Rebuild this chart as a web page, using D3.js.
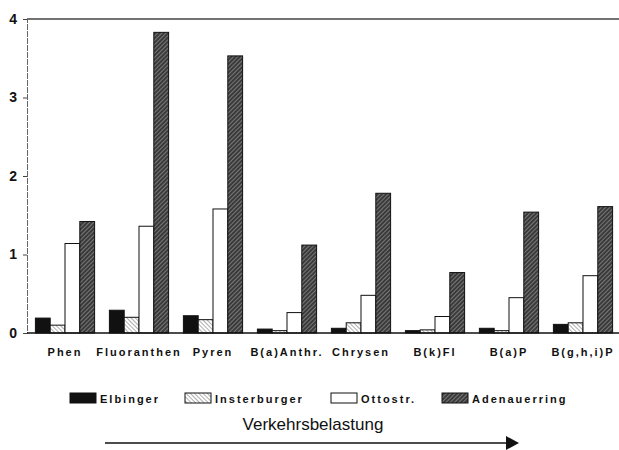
<!DOCTYPE html>
<html>
<head>
<meta charset="utf-8">
<script src="https://cdn.jsdelivr.net/npm/d3@7"></script>
<style>
  body { margin: 0; background: #fff; }
  text { font-family: "Liberation Sans", Arial, sans-serif; }
</style>
</head>
<body>
<script>
// data
let categories = ["Phen", "Fluoranthen", "Pyren", "B(a)Anthr.", "Chrysen", "B(k)Fl", "B(a)P", "B(g,h,i)P"];
let seriesNames = ["Elbinger", "Insterburger", "Ottostr.", "Adenauerring"];
let elbinger = [0.19, 0.29, 0.22, 0.05, 0.06, 0.03, 0.06, 0.11];
let insterburger = [0.10, 0.20, 0.17, 0.03, 0.13, 0.04, 0.03, 0.13];
let ottostr = [1.14, 1.36, 1.58, 0.26, 0.48, 0.21, 0.45, 0.73];
let adenauerring = [1.42, 3.83, 3.53, 1.12, 1.78, 0.77, 1.54, 1.61];
let yTicks = [0, 1, 2, 3, 4];

let seriesValues = [elbinger, insterburger, ottostr, adenauerring];

let svg = d3.select("body").append("svg")
  .attr("width", 619)
  .attr("height", 450);

//patterns for the hatched bars
let defs = svg.append("defs");
let p1 = defs.append("pattern")
  .attr("id", "hatchLight")
  .attr("patternUnits", "userSpaceOnUse")
  .attr("width", 3).attr("height", 3)
  .attr("patternTransform", "rotate(-45)");
p1.append("rect").attr("width", 3).attr("height", 3).attr("fill", "#fff");
p1.append("line").attr("x1", 0).attr("y1", 0).attr("x2", 0).attr("y2", 3)
  .attr("stroke", "#777").attr("stroke-width", 1.2);

let p2 = defs.append("pattern")
  .attr("id", "hatchDark")
  .attr("patternUnits", "userSpaceOnUse")
  .attr("width", 3).attr("height", 3)
  .attr("patternTransform", "rotate(45)");
p2.append("rect").attr("width", 3).attr("height", 3).attr("fill", "#3a3a3a");
p2.append("line").attr("x1", 0).attr("y1", 0).attr("x2", 0).attr("y2", 3)
  .attr("stroke", "#c4c4c4").attr("stroke-width", 0.9);

let fills = ["#111", "url(#hatchLight)", "#fff", "url(#hatchDark)"];

let plotLeft = 27, plotRight = 619, plotTop = 19, plotBottom = 333;

let x0 = d3.scaleBand()
  .domain(categories)
  .range([28, 620])
  .paddingInner(0.2)
  .paddingOuter(0.1);

let x1 = d3.scaleBand()
  .domain(seriesNames)
  .range([0, x0.bandwidth()]);

let y = d3.scaleLinear()
  .domain([0, 4])
  .range([plotBottom, plotTop]);

//y axis
let yG = svg.append("g")
  .attr("transform", `translate(${plotLeft},0)`)
  .call(d3.axisLeft(y).tickValues(yTicks).tickSize(4).tickFormat(d3.format("d")));
yG.select(".domain").attr("stroke", "#666").attr("stroke-dasharray", "6,1");
yG.selectAll(".tick line").attr("stroke", "#444");
yG.selectAll(".tick text")
  .attr("x", -10)
  .attr("font-size", 14)
  .attr("font-weight", "bold")
  .attr("font-family", "Liberation Sans, Arial, sans-serif")
  .attr("fill", "#111");

//top frame line
svg.append("line")
  .attr("x1", plotLeft).attr("x2", plotRight)
  .attr("y1", plotTop).attr("y2", plotTop)
  .attr("stroke", "#444").attr("stroke-width", 1.5);

//bars
let groups = svg.selectAll(".grp").data(categories).enter().append("g")
  .attr("class", "grp")
  .attr("transform", d => `translate(${x0(d)},0)`);

groups.selectAll("rect")
  .data((c, i) => seriesNames.map((s, j) => ({ s: s, j: j, v: seriesValues[j][i] })))
  .enter().append("rect")
  .attr("x", d => x1(d.s))
  .attr("y", d => y(d.v))
  .attr("width", x1.bandwidth())
  .attr("height", d => y(0) - y(d.v))
  .attr("fill", d => fills[d.j])
  .attr("stroke", "#111")
  .attr("stroke-width", 1);

//x axis baseline
svg.append("line")
  .attr("x1", plotLeft).attr("x2", plotRight)
  .attr("y1", plotBottom).attr("y2", plotBottom)
  .attr("stroke", "#111").attr("stroke-width", 1.5);

//category labels
svg.selectAll(".cat").data(categories).enter().append("text")
  .attr("class", "cat")
  .attr("x", d => x0(d) + x0.bandwidth() / 2)
  .attr("y", 356)
  .attr("text-anchor", "middle")
  .attr("font-size", 11)
  .attr("font-weight", "bold")
  .attr("letter-spacing", 2)
  .attr("fill", "#111")
  .text(d => d);

//legend
let legendX = [70, 185, 331, 442];
let lg = svg.selectAll(".leg").data(seriesNames).enter().append("g")
  .attr("class", "leg")
  .attr("transform", (d, i) => `translate(${legendX[i]},393)`);
lg.append("rect")
  .attr("width", 26).attr("height", 10)
  .attr("fill", (d, i) => fills[i])
  .attr("stroke", "#111").attr("stroke-width", 1);
lg.append("text")
  .attr("x", 30).attr("y", 9.5)
  .attr("font-size", 11)
  .attr("font-weight", "bold")
  .attr("letter-spacing", 2)
  .attr("fill", "#111")
  .text(d => d);

//arrow title
svg.append("text")
  .attr("x", 313).attr("y", 430)
  .attr("text-anchor", "middle")
  .attr("font-size", 17)
  .attr("fill", "#111")
  .text("Verkehrsbelastung");

svg.append("line")
  .attr("x1", 105).attr("x2", 508)
  .attr("y1", 443).attr("y2", 443)
  .attr("stroke", "#111").attr("stroke-width", 1.3);
svg.append("path")
  .attr("d", "M506,436 L519,443 L506,450 Z")
  .attr("fill", "#111");
</script>
</body>
</html>
